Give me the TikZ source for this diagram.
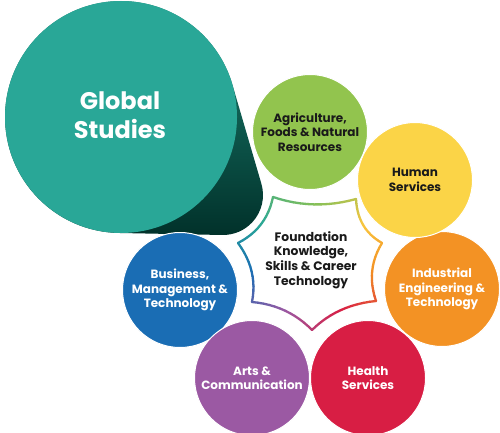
\documentclass[tikz,border=0pt]{standalone}
\usepackage{fontspec}
\setmainfont{Poppins}
\usetikzlibrary{calc}
\definecolor{cteal}{HTML}{29A797}
\definecolor{dkA}{HTML}{1C8575}
\definecolor{dkM}{HTML}{0C5F53}
\definecolor{dkB}{HTML}{01312A}
\definecolor{cgreen}{HTML}{92C44E}
\definecolor{cyellow}{HTML}{FBD447}
\definecolor{corange}{HTML}{F39224}
\definecolor{cred}{HTML}{D81E44}
\definecolor{cpurple}{HTML}{9B59A3}
\definecolor{cblue}{HTML}{1A6DB4}
\definecolor{ctext}{HTML}{1A1A1A}
% star edge colours: 0 purple,1 blue,2 teal,3 green,4 yellow,5 orange,6 red
\colorlet{sc0}{cpurple}
\colorlet{sc1}{cblue}
\colorlet{sc2}{cteal}
\colorlet{sc3}{cgreen!85!cteal}
\colorlet{sc4}{cyellow!80!corange}
\colorlet{sc5}{corange}
\colorlet{sc6}{cred}
\begin{document}
\begin{tikzpicture}[x=1pt,y=-1pt,
  cat/.style={circle, minimum size=115, inner sep=0pt, draw=white, line width=1,
    align=center, font=\fontsize{12}{14.5}\selectfont\bfseries},
  lbl/.style={align=center, font=\fontsize{12.3}{14.8}\selectfont\bfseries}]
\useasboundingbox (0,0) rectangle (500,433);
\fill[white] (0,0) rectangle (500,433);
% droplet
\coordinate (gc) at (121,117);
\coordinate (tc) at (223,195);
\shade[top color=dkA, middle color=dkM, bottom color=dkB]
  ($(gc)+(-17:116)$) -- ($(tc)+(-17:40)$)
  arc[start angle=-17, end angle=91, radius=40]
  -- ($(gc)+(91:116)$)
  arc[start angle=91, end angle=343, radius=116] -- cycle;
\node[circle, fill=cteal, minimum size=232, inner sep=0pt] (glob) at (gc) {};
\node[align=center, text=white, font=\fontsize{24}{29}\selectfont\bfseries] (globt) at (120,115) {Global\\Studies};
% circles
\node[cat, fill=corange, text=white] (ind) at (442,289) {Industrial\\Engineering \&\\Technology};
\node[cat, fill=cyellow, text=ctext] (hum) at (415,180) {Human\\Services};
\node[cat, fill=cgreen, text=ctext] (agr) at (310,132) {Agriculture,\\Foods \& Natural\\Resources};
\node[cat, fill=cblue, text=white] (bus) at (180,290) {Business,\\Management \&\\Technology};
\node[cat, fill=cpurple, text=white] (art) at (252,378) {Arts \&\\Communication};
\node[cat, fill=cred, text=white] (hea) at (368,378) {Health\\Services};
% star (vertices: 0 bottom, 1 lower-left, 2 left, 3 top-left, 4 top-right, 5 right, 6 lower-right)
\coordinate (sc) at (311,262);
\coordinate (v0) at (312,330);
\coordinate (v1) at (252,302);
\coordinate (v2) at (238,243);
\coordinate (v3) at (273,197);
\coordinate (v4) at (356,199);
\coordinate (v5) at (382,243);
\coordinate (v6) at (376,301);
\foreach \k in {0,...,6}{
  \pgfmathtruncatemacro\kn{mod(\k+1,7)}
  \coordinate (c\k) at ($($(v\k)!0.5!(v\kn)$)!0.2!(sc)$);
  \coordinate (ca\k) at ($(v\k)!0.6667!(c\k)$);
  \coordinate (cb\k) at ($(v\kn)!0.6667!(c\k)$);
}
\fill[white] (v0) .. controls (ca0) and (cb0) .. (v1)
  .. controls (ca1) and (cb1) .. (v2)
  .. controls (ca2) and (cb2) .. (v3)
  .. controls (ca3) and (cb3) .. (v4)
  .. controls (ca4) and (cb4) .. (v5)
  .. controls (ca5) and (cb5) .. (v6)
  .. controls (ca6) and (cb6) .. (v0) -- cycle;
\foreach \k in {0,...,6}{
  \pgfmathtruncatemacro\kn{mod(\k+1,7)}
  \pgfmathtruncatemacro\kp{mod(\k+6,7)}
  \foreach \j in {0,...,11}{
    \pgfmathsetmacro\ta{\j/12}
    \pgfmathsetmacro\tb{(\j+1)/12}
    \pgfmathsetmacro\tm{(\j+0.5)/12}
    \pgfmathtruncatemacro\w{50+100*min(\tm,1-\tm)}
    \ifdim\tm pt<0.5pt \colorlet{segc}{sc\k!\w!sc\kp}\else\colorlet{segc}{sc\k!\w!sc\kn}\fi
    \path (v\k) .. controls (ca\k) and (cb\k) .. (v\kn)
      coordinate[pos=\ta] (pa) coordinate[pos=\tb] (pb);
    \draw[segc, line width=2.3, line cap=round] (pa) -- (pb);
  }
}
\node[lbl, text=ctext] (found) at (311,260) {Foundation\\Knowledge,\\Skills \& Career\\Technology};
\end{tikzpicture}
\end{document}
